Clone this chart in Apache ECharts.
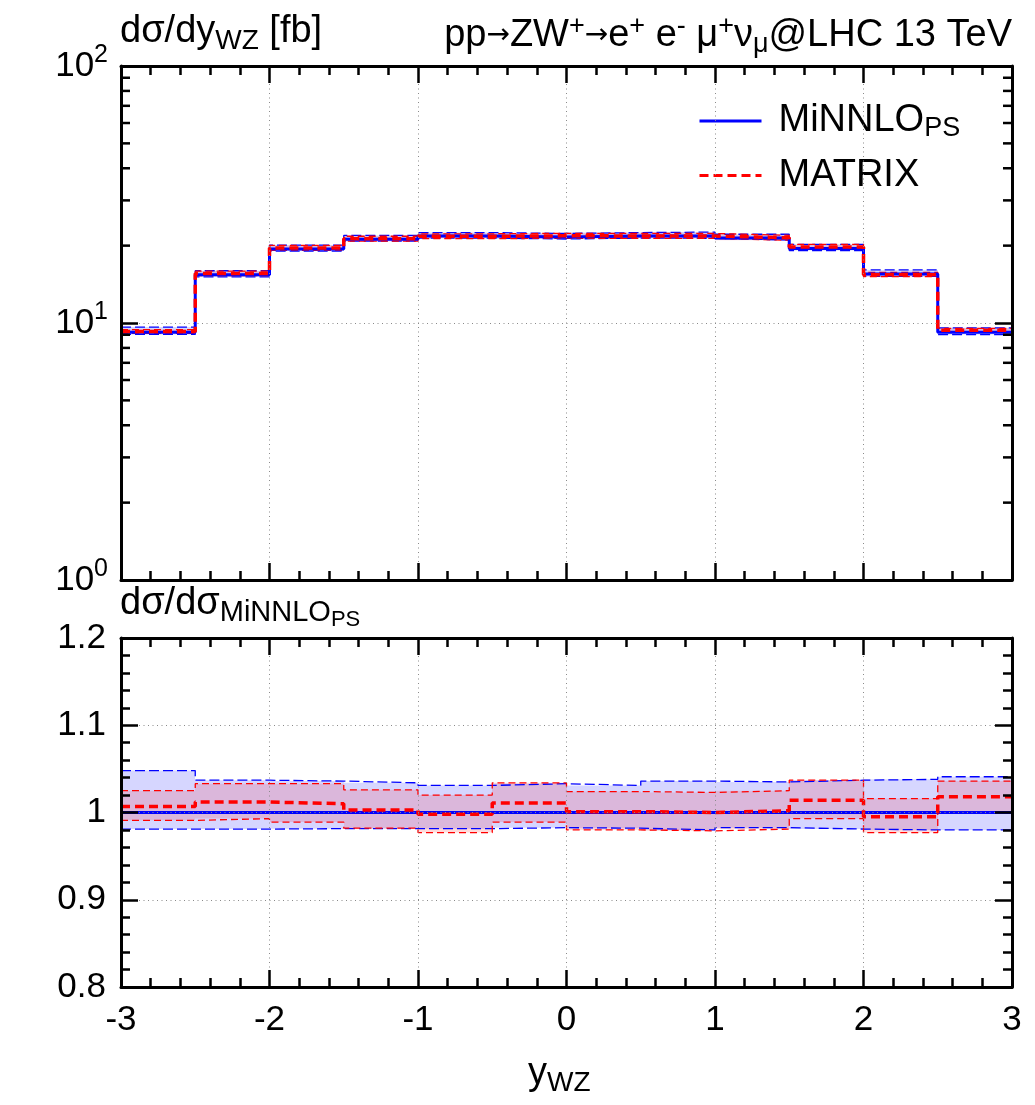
<!DOCTYPE html>
<html>
<head>
<meta charset="utf-8">
<script src="https://cdn.jsdelivr.net/npm/echarts@6/dist/echarts.min.js"></script>
<style>
html, body { margin: 0; padding: 0; background: #ffffff; }
#chart { width: 1035px; height: 1105px; }
</style>
</head>
<body>
<div id="chart"></div>
<script>
// Rapidity bins of the WZ system
const binEdges = [-3, -2.5, -2, -1.5, -1, -0.5, 0, 0.5, 1, 1.5, 2, 2.5, 3];

// MiNNLO_PS central prediction, dσ/dy_WZ in fb
const minnlo = [9.2, 15.4, 19.4, 21.2, 21.8, 21.6, 21.8, 21.8, 21.4, 19.5, 15.5, 9.2];

// MiNNLO_PS scale band, relative to its central value
const minnloHi = [1.048, 1.037, 1.036, 1.034, 1.031, 1.033, 1.031, 1.036, 1.035, 1.037, 1.038, 1.041];
const minnloLo = [0.981, 0.981, 0.9815, 0.9815, 0.9815, 0.9826, 0.982, 0.980, 0.9826, 0.981, 0.980, 0.980];

// MATRIX central value and scale band, relative to MiNNLO_PS central value
const matrixRatio = [1.007, 1.012, 1.010, 1.003, 0.998, 1.011, 1.001, 1.000, 1.002, 1.014, 0.995, 1.018];
const matrixHi = [1.025, 1.033, 1.033, 1.026, 1.020, 1.034, 1.024, 1.023, 1.025, 1.037, 1.016, 1.036];
const matrixLo = [0.991, 0.993, 0.989, 0.982, 0.977, 0.989, 0.980, 0.979, 0.981, 0.993, 0.977, 0.9995];

// Log-axis minor tick positions of the upper panel
const logMinorTicks = [2, 3, 4, 5, 6, 7, 8, 9, 20, 30, 40, 50, 60, 70, 80, 90];

const FONT = 'Liberation Sans';
const BLUE = '#0000ff';
const RED = '#ff0000';

const scaled = (rel) => rel.map((r, i) => r * minnlo[i]);
const ones = minnlo.map(() => 1);

// Step-line points: left edge of every bin, then the right edge of the last bin
function stepData(vals) {
  const pts = vals.map((v, i) => [binEdges[i], v]);
  pts.push([binEdges[binEdges.length - 1], vals[vals.length - 1]]);
  return pts;
}
function bandData(lo, hi) {
  return lo.map((l, i) => [binEdges[i], binEdges[i + 1], l, hi[i]]);
}
function bandRender(fill) {
  return function (params, api) {
    const a = api.coord([api.value(0), api.value(3)]);
    const b = api.coord([api.value(1), api.value(2)]);
    const x0 = Math.round(a[0]), x1 = Math.round(b[0]);
    return {
      type: 'rect',
      shape: { x: x0, y: a[1], width: x1 - x0, height: b[1] - a[1] },
      style: { fill: fill }
    };
  };
}

function bandSeries(lo, hi, fill, xi, yi) {
  return {
    type: 'custom', xAxisIndex: xi, yAxisIndex: yi, z: 1, clip: true, silent: true,
    renderItem: bandRender(fill),
    encode: { x: [0, 1], y: [2, 3] },
    data: bandData(lo, hi)
  };
}
function edgeSeries(vals, color, dash, xi, yi) {
  return {
    type: 'line', xAxisIndex: xi, yAxisIndex: yi, step: 'end', symbol: 'none', z: 3, silent: true,
    lineStyle: { color: color, width: 1.3, type: dash },
    data: stepData(vals)
  };
}
function centralSeries(name, vals, color, type, width, xi, yi, z) {
  return {
    name: name, type: 'line', xAxisIndex: xi, yAxisIndex: yi, step: 'end', symbol: 'none', z: z, silent: true,
    itemStyle: { color: color },
    lineStyle: { color: color, width: width, type: type },
    data: stepData(vals)
  };
}

const tickStyle = { color: '#000', width: 2.5 };
const gridLine = { show: true, lineStyle: { color: '#8a8a8a', width: 1, type: [1, 3.5] } };
const TICK_FS = 35;

function xAxisDef(gridIndex, position, showLabels, split) {
  return {
    type: 'value', gridIndex: gridIndex, position: position, min: -3, max: 3, interval: 1, z: 10,
    axisLine: { show: true, onZero: false, lineStyle: { color: '#000', width: 3 } },
    axisTick: { show: true, inside: true, length: 17, lineStyle: tickStyle },
    minorTick: { show: true, splitNumber: 5, length: 9, lineStyle: tickStyle },
    axisLabel: { show: showLabels, margin: 16, color: '#000', fontFamily: FONT, fontSize: TICK_FS },
    splitLine: split ? gridLine : { show: false }
  };
}

const supRich = {
  b: { fontFamily: FONT, fontSize: TICK_FS, color: '#000' },
  s: { fontFamily: FONT, fontSize: 25, color: '#000', padding: [0, 0, 22, 0] }
};

const option = {
  animation: false,
  backgroundColor: '#ffffff',
  grid: [
    { left: 121, top: 66, width: 891, height: 514 },
    { left: 121, top: 638, width: 891, height: 349 }
  ],
  xAxis: [
    xAxisDef(0, 'bottom', false, true),
    xAxisDef(0, 'top', false, false),
    xAxisDef(1, 'bottom', true, true),
    xAxisDef(1, 'top', false, false)
  ],
  yAxis: [
    {
      type: 'log', logBase: 10, gridIndex: 0, position: 'left', min: 1, max: 100, z: 10,
      axisLine: { show: true, onZero: false, lineStyle: { color: '#000', width: 3 } },
      axisTick: { show: true, inside: true, length: 17, lineStyle: tickStyle },
      axisLabel: {
        show: true, margin: 13,
        formatter: (v) => '{b|10}{s|' + Math.round(Math.log10(v)) + '}',
        rich: supRich
      },
      splitLine: gridLine
    },
    {
      type: 'log', logBase: 10, gridIndex: 0, position: 'right', min: 1, max: 100, z: 10,
      axisLine: { show: true, onZero: false, lineStyle: { color: '#000', width: 3 } },
      axisTick: { show: true, inside: true, length: 17, lineStyle: tickStyle },
      axisLabel: { show: false },
      splitLine: { show: false }
    },
    {
      type: 'value', gridIndex: 1, position: 'left', min: 0.8, max: 1.2, interval: 0.1, z: 10,
      axisLine: { show: true, onZero: false, lineStyle: { color: '#000', width: 3 } },
      axisTick: { show: true, inside: true, length: 17, lineStyle: tickStyle },
      minorTick: { show: true, splitNumber: 5, length: 9, lineStyle: tickStyle },
      axisLabel: {
        show: true, margin: 15, color: '#000', fontFamily: FONT, fontSize: TICK_FS,
        formatter: (v) => String(Math.round(v * 10) / 10)
      },
      splitLine: gridLine
    },
    {
      type: 'value', gridIndex: 1, position: 'right', min: 0.8, max: 1.2, interval: 0.1, z: 10,
      axisLine: { show: true, onZero: false, lineStyle: { color: '#000', width: 3 } },
      axisTick: { show: true, inside: true, length: 17, lineStyle: tickStyle },
      minorTick: { show: true, splitNumber: 5, length: 9, lineStyle: tickStyle },
      axisLabel: { show: false },
      splitLine: { show: false }
    }
  ],
  legend: {
    data: ['MiNNLO', 'MATRIX'],
    orient: 'vertical', left: 693, top: 97,
    itemWidth: 62, itemHeight: 14, itemGap: 14,
    selectedMode: false,
    itemStyle: { opacity: 0 },
    lineStyle: { width: 3 },
    formatter: (n) => n === 'MiNNLO' ? '{m|MiNNLO}{u|PS}' : '{m|MATRIX}',
    textStyle: {
      padding: [0, 0, 0, 12],
      rich: {
        m: { fontFamily: FONT, fontSize: 38, color: '#000' },
        u: { fontFamily: FONT, fontSize: 27, color: '#000', padding: [16, 0, 0, 0] }
      }
    }
  },
  series: [
    // upper panel: uncertainty bands
    bandSeries(scaled(minnloLo), scaled(minnloHi), 'rgba(0,0,255,0.16)', 0, 0),
    bandSeries(scaled(matrixLo), scaled(matrixHi), 'rgba(255,0,0,0.14)', 0, 0),
    edgeSeries(scaled(minnloHi), BLUE, [10, 4], 0, 0),
    edgeSeries(scaled(minnloLo), BLUE, [10, 4], 0, 0),
    edgeSeries(scaled(matrixHi), RED, [7, 4], 0, 0),
    edgeSeries(scaled(matrixLo), RED, [7, 4], 0, 0),
    centralSeries('MiNNLO', minnlo, BLUE, 'solid', 3, 0, 0, 4),
    centralSeries('MATRIX', scaled(matrixRatio), RED, [9, 5], 3.5, 0, 0, 5),
    // upper panel: minor ticks of the log axis on both sides
    {
      type: 'custom', xAxisIndex: 0, yAxisIndex: 0, z: 11, silent: true, clip: false,
      encode: { y: 0 },
      data: logMinorTicks.map((v) => [v]),
      renderItem: function (params, api) {
        const l = api.coord([-3, api.value(0)]);
        const r = api.coord([3, api.value(0)]);
        return {
          type: 'group',
          children: [
            { type: 'line', shape: { x1: l[0], y1: l[1], x2: l[0] + 9, y2: l[1] }, style: { stroke: '#000', lineWidth: 2.5 } },
            { type: 'line', shape: { x1: r[0], y1: r[1], x2: r[0] - 9, y2: r[1] }, style: { stroke: '#000', lineWidth: 2.5 } }
          ]
        };
      }
    },
    // lower panel: ratio to MiNNLO_PS
    bandSeries(minnloLo, minnloHi, 'rgba(0,0,255,0.16)', 2, 2),
    bandSeries(matrixLo, matrixHi, 'rgba(255,0,0,0.14)', 2, 2),
    edgeSeries(minnloHi, BLUE, [10, 4], 2, 2),
    edgeSeries(minnloLo, BLUE, [10, 4], 2, 2),
    edgeSeries(matrixHi, RED, [7, 4], 2, 2),
    edgeSeries(matrixLo, RED, [7, 4], 2, 2),
    centralSeries('MiNNLO_ratio', ones, BLUE, 'solid', 3, 2, 2, 4),
    centralSeries('MATRIX_ratio', matrixRatio, RED, [9, 5], 3.5, 2, 2, 5)
  ],
  graphic: [
    {
      type: 'text', left: 120, top: 13,
      style: {
        text: '{b|dσ/dy}{d|WZ}{b| [fb]}',
        rich: {
          b: { fontFamily: FONT, fontSize: 38, fill: '#000' },
          d: { fontFamily: FONT, fontSize: 28, fill: '#000', padding: [18, 0, 0, 0] }
        }
      }
    },
    {
      type: 'text', right: 23, top: 13,
      style: {
        text: '{b|pp}{a|→}{b|ZW}{u|+}{a|→}{b|e}{u|+}{b| e}{u|-}{b| μ}{u|+}{b|ν}{d|μ}{b|@LHC 13 TeV}',
        rich: {
          b: { fontFamily: FONT, fontSize: 38, fill: '#000' },
          a: { fontFamily: 'DejaVu Sans', fontSize: 28, fill: '#000' },
          u: { fontFamily: FONT, fontSize: 27, fill: '#000', padding: [0, 0, 18, 0] },
          d: { fontFamily: FONT, fontSize: 27, fill: '#000', padding: [18, 0, 0, 0] }
        }
      }
    },
    {
      type: 'text', left: 120, top: 585,
      style: {
        text: '{b|dσ/dσ}{d|MiNNLO}{e|PS}',
        rich: {
          b: { fontFamily: FONT, fontSize: 38, fill: '#000' },
          d: { fontFamily: FONT, fontSize: 29, fill: '#000', padding: [18, 0, 0, 0] },
          e: { fontFamily: FONT, fontSize: 22, fill: '#000', padding: [32, 0, 0, 0] }
        }
      }
    },
    {
      type: 'text', left: 528, top: 1055,
      style: {
        text: '{b|y}{d|WZ}',
        rich: {
          b: { fontFamily: FONT, fontSize: 38, fill: '#000' },
          d: { fontFamily: FONT, fontSize: 28, fill: '#000', padding: [18, 0, 0, 0] }
        }
      }
    }
  ]
};

const chart = echarts.init(document.getElementById('chart'), null, { renderer: 'canvas' });
chart.setOption(option);
</script>
</body>
</html>
